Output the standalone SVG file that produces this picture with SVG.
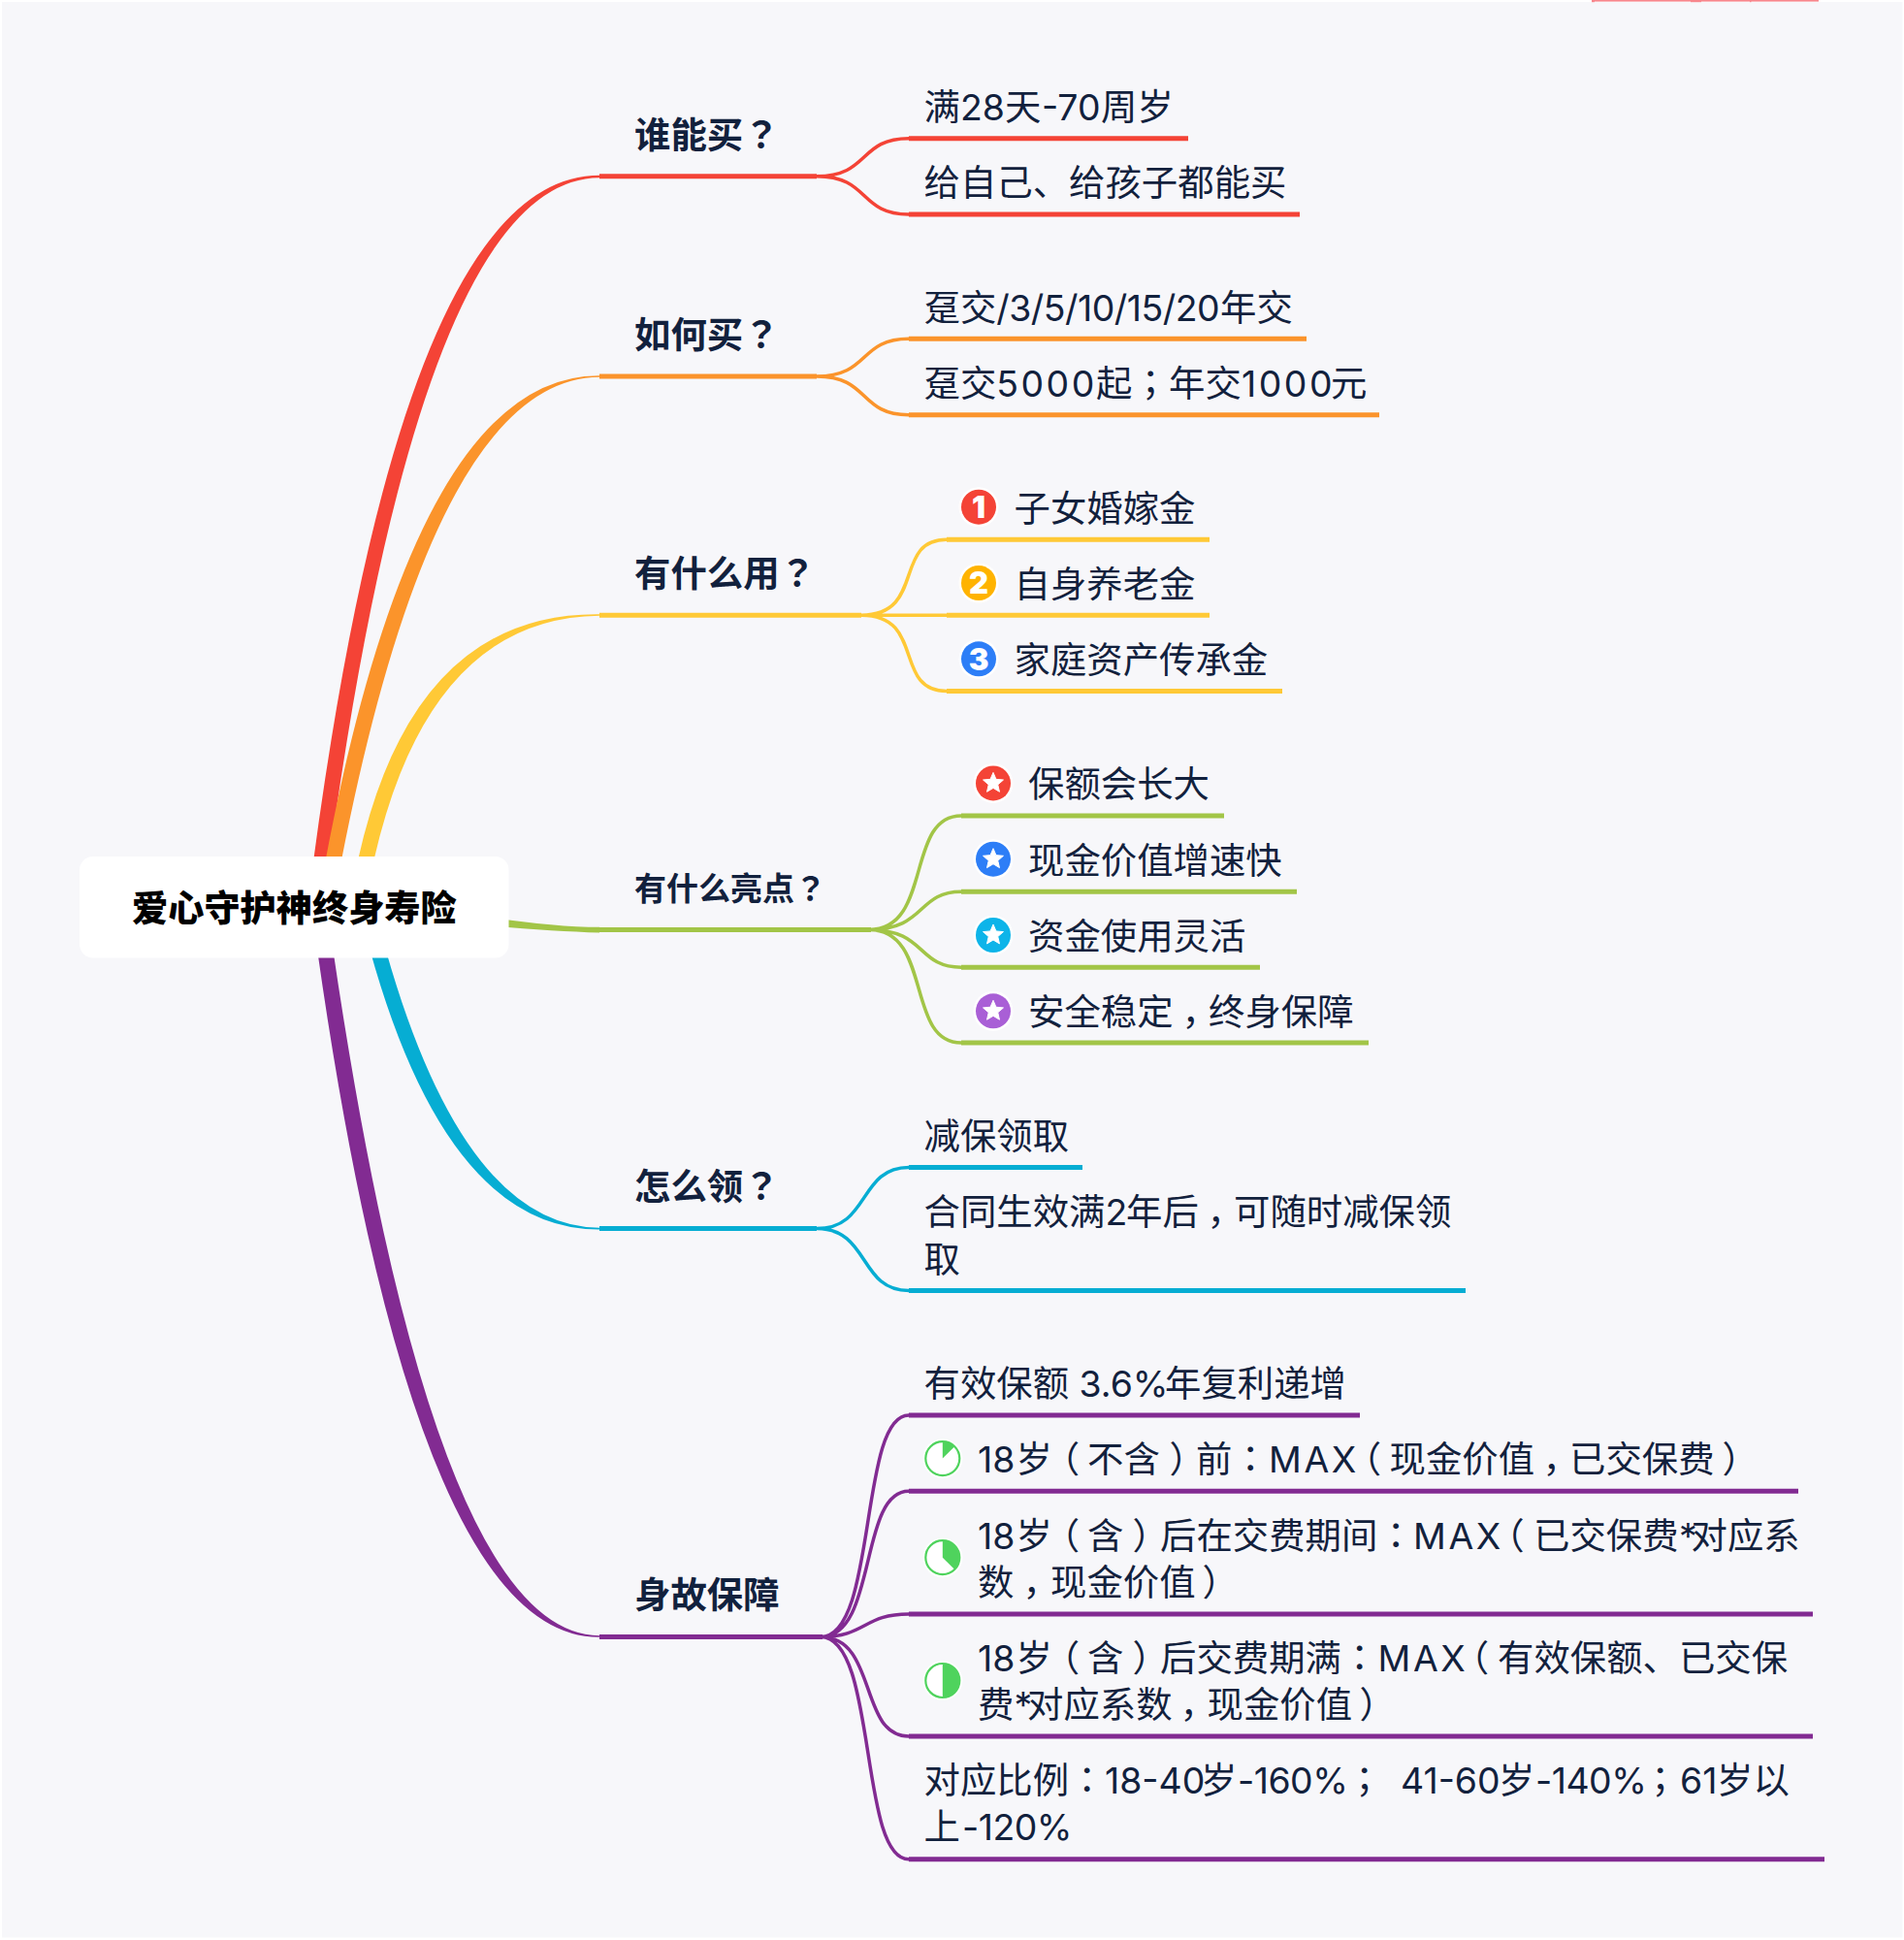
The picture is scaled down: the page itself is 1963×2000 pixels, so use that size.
<svg xmlns="http://www.w3.org/2000/svg" width="1963" height="2000" viewBox="0 0 1963 2000">
<style>
text{font-family:Inter,"Noto Sans CJK SC",sans-serif;font-size:37.4px;fill:#12213d;white-space:pre}
.t{font-weight:700}
.t4{font-weight:700;font-size:33px}
.root{font-weight:900;fill:#000;font-size:37.2px}
.p{font-family:"Noto Sans CJK TC",sans-serif}
.h{font-feature-settings:"halt"}
.w{letter-spacing:2.5px}
.m{letter-spacing:2.6px}
.s{letter-spacing:-.5px}
.a{letter-spacing:-6px}
.n{font-family:Inter,sans-serif;font-weight:900;font-size:31px;fill:#fff;text-anchor:middle}
.line{fill:none;stroke-width:5}
.c{fill:none;stroke-width:3.5}
.red{stroke:#f44336}.org{stroke:#fb942b}.yel{stroke:#ffc936}.grn{stroke:#a2c547}.cya{stroke:#06add3}.pur{stroke:#822b92}
</style>
<defs>
<path id="star" fill="#fff" stroke="#fff" stroke-width="1" stroke-linejoin="round" d="M0-11 2.94-4.05 10.46-3.4 4.76 1.55 6.47 8.9 0 5-6.47 8.9-4.76 1.55-10.46-3.4-2.94-4.05Z"/>
<circle id="halo" r="20.5" fill="#fff"/>
<g id="pring"><circle r="20.5" fill="#fff"/><circle r="17.5" fill="#fff" stroke="#4fd35d" stroke-width="2.2"/></g>
</defs>
<rect width="1963" height="2000" fill="#fff"/>
<rect x="2" y="2" width="1959.5" height="1995.5" fill="#f7f7fa"/>
<g id="topmark" fill="#f8868c"><rect x="1641" width="234" height="1.6"/><rect x="1641" width="3" height="2.2"/><rect x="1743" width="11" height="2.2"/><rect x="1804" width="1.5" height="2.2"/></g>

<g id="connectors">
<path fill="#f44336" d="M317 935Q411 180.500 618 180.800L618 183.200Q429 184 333 935Z"/>
<path fill="#fb942b" d="M327 935Q421 386 618 387.200L618 388.800Q441 390 343 935Z"/>
<path fill="#ffc936" d="M360 935Q408 631 618 633.200L618 634.800Q426 637 376 935Z"/>
<path fill="#a2c547" d="M500 945Q570 955.500 618 955.800L618 961.500Q570 960 500 954Z"/>
<path fill="#06add3" d="M370 935Q450 1268.500 618 1267.400L618 1265.800Q468 1264.500 386 935Z"/>
<path fill="#822b92" d="M321 935Q422 1689 618 1687.800L618 1686.200Q442 1685 337 935Z"/>

<g class="red">
<path class="line" d="M618 181.700H842M937 142.700H1225M937 221H1340"/>
<path class="c" d="M842 181.700C897 181.700 885 142.700 937 142.700M842 181.700C897 181.700 885 221 937 221"/>
</g>
<g class="org">
<path class="line" d="M618 388H842M937 349.300H1347M937 427.700H1422"/>
<path class="c" d="M842 388C897 388 885 349.300 937 349.300M842 388C897 388 885 427.700 937 427.700"/>
</g>
<g class="yel">
<path class="line" d="M618 634.200H888M976 556.300H1247M976 634.200H1247M976 712.500H1322"/>
<path class="c" d="M888 634.200C955 634.200 920 556.300 976 556.300M888 634.200H976M888 634.200C955 634.200 920 712.500 976 712.500"/>
</g>
<g class="grn">
<path class="line" d="M618 958.400H898M991 841H1262M991 919.300H1337M991 997.200H1299M991 1075H1411"/>
<path class="c" d="M896 958.400C962 958.400 933 841 991 841M896 958.400C955 958.400 945 919.300 991 919.300M896 958.400C955 958.400 945 997.200 991 997.200M896 958.400C962 958.400 933 1075 991 1075"/>
</g>
<g class="cya">
<path class="line" d="M618 1266.600H842M937 1203.500H1116M937 1330.500H1511"/>
<path class="c" d="M842 1266.600C897 1266.600 885 1203.500 937 1203.500M842 1266.600C897 1266.600 885 1330.500 937 1330.500"/>
</g>
<g class="pur">
<path class="line" d="M618 1687.500H848M937 1459H1402M937 1537.300H1854M937 1664H1869M937 1790H1869M937 1916.700H1881"/>
<path class="c" d="M846 1687.500C905 1687.500 885 1459 937 1459M846 1687.500C905 1687.500 885 1537.300 937 1537.300M846 1687.500C893 1687.500 890 1664 937 1664M846 1687.500C905 1687.500 885 1790 937 1790M846 1687.500C905 1687.500 885 1916.700 937 1916.700"/>
</g>
</g>

<g id="root"><rect x="82" y="883" width="442.500" height="104.500" rx="14" fill="#fff"/><text class="root" x="136" y="950">爱心守护神终身寿险</text></g>

<g id="b1"><text class="t" x="654" y="152.500">谁能买<tspan class="p">？</tspan></text>
<g id="b1-1"><text x="952.500" y="123.500">满28<tspan x="1036">天</tspan><tspan x="1074">-70</tspan><tspan x="1135">周岁</tspan></text></g>
<g id="b1-2"><text x="952.500" y="202">给自己、给孩子都能买</text></g></g>

<g id="b2"><text class="t" x="654" y="358.500">如何买<tspan class="p">？</tspan></text>
<g id="b2-1"><text x="952.500" y="330.500">趸交<tspan class="s">/3/5/10/15/20</tspan><tspan x="1258">年交</tspan></text></g>
<g id="b2-2"><text x="952.500" y="408.500">趸交<tspan class="w">5000</tspan><tspan x="1130">起</tspan><tspan class="p" x="1167.500">；</tspan><tspan x="1205">年交</tspan><tspan class="w" x="1280">1000</tspan><tspan x="1372">元</tspan></text></g></g>

<g id="b3"><text class="t" x="654" y="604.500">有什么用<tspan class="p">？</tspan></text>
<g id="b3-1"><use href="#halo" x="1009" y="522.700"/><circle cx="1009" cy="522.700" r="18" fill="#f44336"/><text class="n" x="1009" y="534">1</text><text x="1045.500" y="537.500">子女婚嫁金</text></g>
<g id="b3-2"><use href="#halo" x="1009" y="601"/><circle cx="1009" cy="601" r="18" fill="#ffb300"/><text class="n" x="1009" y="612">2</text><text x="1045.500" y="615.500">自身养老金</text></g>
<g id="b3-3"><use href="#halo" x="1009" y="679.300"/><circle cx="1009" cy="679.300" r="18" fill="#2d7ef7"/><text class="n" x="1009" y="690.500">3</text><text x="1045.500" y="693.500">家庭资产传承金</text></g></g>

<g id="b4"><text class="t4" x="654" y="928">有什么亮点<tspan class="p">？</tspan></text>
<g id="b4-1"><use href="#halo" x="1024" y="807.400"/><circle cx="1024" cy="807.400" r="18" fill="#f44336"/><use href="#star" x="1024" y="807.400"/><text x="1060" y="822">保额会长大</text></g>
<g id="b4-2"><use href="#halo" x="1024" y="885.700"/><circle cx="1024" cy="885.700" r="18" fill="#2d7ef7"/><use href="#star" x="1024" y="885.700"/><text x="1060" y="900.500">现金价值增速快</text></g>
<g id="b4-3"><use href="#halo" x="1024" y="964"/><circle cx="1024" cy="964" r="18" fill="#0db4e9"/><use href="#star" x="1024" y="964"/><text x="1060" y="978.500">资金使用灵活</text></g>
<g id="b4-4"><use href="#halo" x="1024" y="1042.300"/><circle cx="1024" cy="1042.300" r="18" fill="#a95fd6"/><use href="#star" x="1024" y="1042.300"/><text x="1060" y="1056.500">安全稳定<tspan class="h" x="1218.500">，</tspan><tspan x="1246">终身保障</tspan></text></g></g>

<g id="b5"><text class="t" x="654" y="1236.500">怎么领<tspan class="p">？</tspan></text>
<g id="b5-1"><text x="952.500" y="1184.500">减保领取</text></g>
<g id="b5-2"><text x="952.500" y="1263">合同生效满2<tspan x="1161">年后</tspan><tspan class="h" x="1244.500">，</tspan><tspan x="1272">可随时减保领</tspan></text><text x="952.500" y="1311.500">取</text></g></g>

<g id="b6"><text class="t" x="654" y="1657.500">身故保障</text>
<g id="b6-1"><text x="952.500" y="1440">有效保额 3.6%<tspan x="1201">年复利递增</tspan></text></g>
<g id="b6-2"><use href="#pring" x="971.800" y="1503.600"/><path fill="#4fd35d" d="M971.800 1503.600V1486.100A17.500 17.500 0 0 1 984.200 1491.200Z"/><text x="1008" y="1518">18<tspan x="1047.500">岁</tspan><tspan class="h" x="1094.400">（</tspan><tspan x="1121">不含</tspan><tspan class="h" x="1205.500">）</tspan><tspan x="1233">前</tspan><tspan class="p" x="1270.500">：</tspan><tspan class="m" x="1308">MAX</tspan><tspan class="h" x="1405.400">（</tspan><tspan x="1432.500">现金价值</tspan><tspan class="h" x="1590.500">，</tspan><tspan x="1618">已交保费</tspan><tspan class="h" x="1775.500">）</tspan></text></g>
<g id="b6-3"><use href="#pring" x="971.800" y="1605.700"/><path fill="#4fd35d" d="M971.800 1605.700V1588.200A17.500 17.500 0 0 1 984.200 1618.100Z"/><text x="1008" y="1596.500">18<tspan x="1047.500">岁</tspan><tspan class="h" x="1094.400">（</tspan><tspan x="1121">含</tspan><tspan class="h" x="1167.500">）</tspan><tspan x="1196">后在交费期间</tspan><tspan class="p" x="1420.500">：</tspan><tspan class="m" x="1457">MAX</tspan><tspan class="h" x="1553">（</tspan><tspan x="1581">已交保费</tspan><tspan class="a" x="1731">*</tspan><tspan x="1743.500">对应系</tspan></text><text x="1008" y="1645">数<tspan class="h" x="1054.500">，</tspan><tspan x="1083">现金价值</tspan><tspan class="h" x="1239.500">）</tspan></text></g>
<g id="b6-4"><use href="#pring" x="971.800" y="1732.500"/><path fill="#4fd35d" d="M971.800 1732.500V1715A17.500 17.500 0 0 1 971.800 1750Z"/><text x="1008" y="1722.500">18<tspan x="1047.500">岁</tspan><tspan class="h" x="1094.400">（</tspan><tspan x="1121">含</tspan><tspan class="h" x="1167.500">）</tspan><tspan x="1196">后交费期满</tspan><tspan class="p" x="1383">：</tspan><tspan class="m" x="1420.500">MAX</tspan><tspan class="h" x="1516.400">（</tspan><tspan x="1544">有效保额、已交保</tspan></text><text x="1008" y="1771">费<tspan class="a" x="1045.500">*</tspan><tspan x="1059">对应系数</tspan><tspan class="h" x="1216.500">，</tspan><tspan x="1244.500">现金价值</tspan><tspan class="h" x="1401.500">）</tspan></text></g>
<g id="b6-5"><text x="952.500" y="1848.500">对应比例<tspan class="p">：</tspan><tspan x="1139">18-40</tspan><tspan x="1238">岁</tspan><tspan class="s" x="1276">-160%</tspan><tspan class="p" x="1388">；  </tspan><tspan x="1444">41-60</tspan><tspan x="1545">岁</tspan><tspan class="s" x="1583">-140%</tspan><tspan class="p" x="1693">；</tspan><tspan x="1732">61</tspan><tspan x="1770">岁以</tspan></text><text x="952.500" y="1897">上<tspan class="s" x="992">-120%</tspan></text></g></g>
</svg>
